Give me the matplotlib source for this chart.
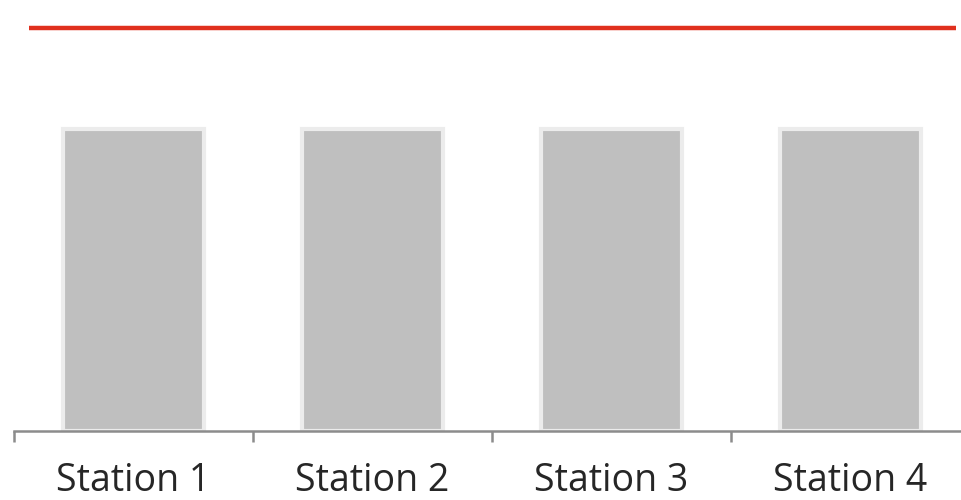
import numpy as np
import matplotlib
matplotlib.use('Agg')
import matplotlib.pyplot as plt

stations = ['Station 1', 'Station 2', 'Station 3', 'Station 4']
values = [3, 3, 3, 3]
target = 4.0

fig = plt.figure(figsize=(9.61, 5.0), dpi=100)
ax = fig.add_axes([14 / 961, 69 / 500, 956 / 961, 431 / 500])

x = np.arange(len(stations))
ax.bar(x, values, width=0.59, color='#bfbfbf', edgecolor='#ececec', linewidth=3)
ax.axhline(target, xmin=0.016, xmax=0.985, color='#e0301e', linewidth=3.2,
           solid_capstyle='butt')

ax.set_xlim(-0.5, len(stations) - 0.5)
ax.set_ylim(0, 4.28)

for s in ['top', 'right', 'left']:
    ax.spines[s].set_visible(False)
ax.spines['bottom'].set_color('#8c8c8c')
ax.spines['bottom'].set_linewidth(1.8)
ax.yaxis.set_visible(False)

# tick marks between categories, labels centred on categories
ax.set_xticks(np.arange(len(stations) + 1) - 0.5)
ax.set_xticklabels([])
ax.tick_params(axis='x', which='major', length=8, width=1.8, color='#8c8c8c')
ax.set_xticks(x, minor=True)
ax.set_xticklabels(stations, minor=True, fontsize=27, family='Open Sans',
                   color='#262626')
ax.tick_params(axis='x', which='minor', length=0, pad=22)

plt.savefig('out.png', dpi=100)
